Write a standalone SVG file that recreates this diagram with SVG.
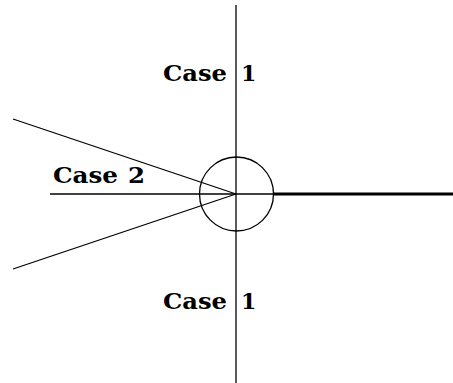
<svg xmlns="http://www.w3.org/2000/svg" width="453" height="383" viewBox="0 0 453 383">
<style>
.l{stroke:#000;stroke-width:1.3;fill:none}
.t{font-family:"DejaVu Serif","Liberation Serif",serif;font-weight:bold;font-size:22px;fill:#000}
</style>
<rect width="453" height="383" fill="#fff"/>
<g id="connectors">
<line class="l" x1="236" y1="5" x2="236" y2="383"/>
<line class="l" x1="50" y1="194" x2="275" y2="194"/>
<line x1="274" y1="194" x2="453" y2="194" stroke="#000" stroke-width="3"/>
<line class="l" x1="13" y1="119" x2="236" y2="194"/>
<line class="l" x1="13" y1="269" x2="236" y2="194"/>
</g>
<g id="circle"><circle class="l" cx="236.5" cy="194" r="37"/></g>
<g id="case1-top"><text class="t" x="163" y="81" textLength="64" lengthAdjust="spacingAndGlyphs">Case</text><text class="t" x="241" y="81">1</text></g>
<g id="case2"><text class="t" x="53" y="183" textLength="65" lengthAdjust="spacingAndGlyphs">Case</text><text class="t" x="128" y="183" textLength="17" lengthAdjust="spacingAndGlyphs">2</text></g>
<g id="case1-bottom"><text class="t" x="163" y="309" textLength="64" lengthAdjust="spacingAndGlyphs">Case</text><text class="t" x="241" y="309">1</text></g>
</svg>
